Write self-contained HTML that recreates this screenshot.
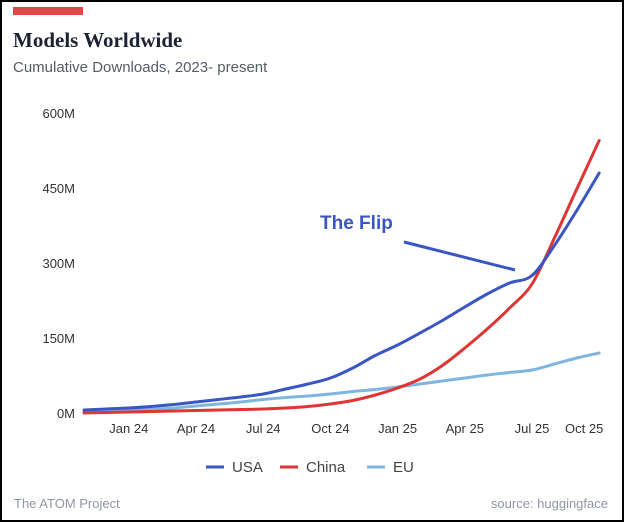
<!DOCTYPE html>
<html><head><meta charset="utf-8"><style>
html,body{margin:0;padding:0;background:#fff}
#wrap{position:relative;width:620px;height:518px;border:2px solid #000;overflow:hidden;font-family:"Liberation Sans",sans-serif}
</style></head><body>
<div id="wrap">
<div style="position:absolute;left:11px;top:5px;width:70px;height:8px;background:#e04848"></div>
<div style="position:absolute;left:11px;top:26px;font-family:'Liberation Serif',serif;font-weight:bold;font-size:21px;color:#1c2233">Models Worldwide</div>
<div style="position:absolute;left:11px;top:57px;font-size:15px;color:#555b66">Cumulative Downloads, 2023- present</div>
<svg id="chart" width="620" height="518" style="position:absolute;left:0;top:0"></svg>
<div style="position:absolute;left:12px;top:494px;font-size:13px;color:#9097a3">The ATOM Project</div>
<div style="position:absolute;right:14px;top:494px;font-size:13px;color:#9097a3">source: huggingface</div>
</div>
<script>
const months = ["Nov 23","Dec 23","Jan 24","Feb 24","Mar 24","Apr 24","May 24","Jun 24","Jul 24","Aug 24","Sep 24","Oct 24","Nov 24","Dec 24","Jan 25","Feb 25","Mar 25","Apr 25","May 25","Jun 25","Jul 25","Aug 25","Sep 25","Oct 25"];
const usa = [6,8,10,13,17,22,27,32,38,48,58,70,90,115,136,160,185,212,238,260,275,335,405,480];
const china = [0,1,2,3,4,5,6,7,8,10,13,18,25,36,50,68,95,130,168,210,258,350,448,545];
const eu = [2,3,5,7,10,14,18,22,27,31,34,38,43,47,52,58,64,70,76,81,86,98,110,120];
const yTicks = [0,150,300,450,600];
const xTickMonths = ["Jan 24","Apr 24","Jul 24","Oct 24","Jan 25","Apr 25","Jul 25","Oct 25"];
const ox=-2, oy=-2;
const svg=document.getElementById('chart');
const NS="http://www.w3.org/2000/svg";
function xS(i){return 84+i*22.4+ox;}
function yS(v){return 413-v*0.5+oy;}
function mk(t,a){const e=document.createElementNS(NS,t);for(const k in a)e.setAttribute(k,a[k]);svg.appendChild(e);return e;}
yTicks.forEach(v=>{
 const t=mk('text',{x:75+ox,y:yS(v)+5,'text-anchor':'end','font-size':13,fill:'#333'});
 t.textContent=v+'M';
 
 
});
xTickMonths.forEach(m=>{
 const i=months.indexOf(m);
 let x=xS(i); if(i===months.length-1) x-=15;
 const t=mk('text',{x:x,y:433+oy,'text-anchor':'middle','font-size':13,fill:'#333'});
 t.textContent=m;
 
 
});
function path(arr){
 const p=arr.map((v,i)=>[xS(i),yS(v)]);
 let d='M'+p[0][0]+','+p[0][1];
 for(let i=0;i<p.length-1;i++){
  const p0=p[i-1]||p[i],p1=p[i],p2=p[i+1],p3=p[i+2]||p2;
  const c1x=p1[0]+(p2[0]-p0[0])/6,c1y=p1[1]+(p2[1]-p0[1])/6;
  const c2x=p2[0]-(p3[0]-p1[0])/6,c2y=p2[1]-(p3[1]-p1[1])/6;
  d+=' C'+c1x+','+c1y+' '+c2x+','+c2y+' '+p2[0]+','+p2[1];
 }
 return d;
}
const series=[[eu,'#7fb6e0','eu-line'],[china,'#df3535','china-line'],[usa,'#3a56c4','usa-line']];
series.forEach(s=>{
 const e=mk('path',{d:path(s[0]),fill:'none',stroke:s[1],'stroke-width':3,'stroke-linecap':'round'});
 
 
});
const ann=mk('text',{x:320+ox,y:229+oy,'font-size':19,'font-weight':'bold',fill:'#3a56c4'});
ann.textContent='The Flip';


const al=mk('line',{x1:404+ox,y1:242+oy,x2:515+ox,y2:270+oy,stroke:'#3a56c4','stroke-width':3});


const leg=[['USA','#3a56c4',206],['China','#df3535',280],['EU','#7fb6e0',367]];
leg.forEach(l=>{
 const g=mk('line',{x1:l[2]+ox,y1:467+oy,x2:l[2]+18+ox,y2:467+oy,stroke:l[1],'stroke-width':3});
 
 
 const t=mk('text',{x:l[2]+26+ox,y:472+oy,'font-size':15,fill:'#444'});
 t.textContent=l[0];
 
 
});
</script>
</body></html>
